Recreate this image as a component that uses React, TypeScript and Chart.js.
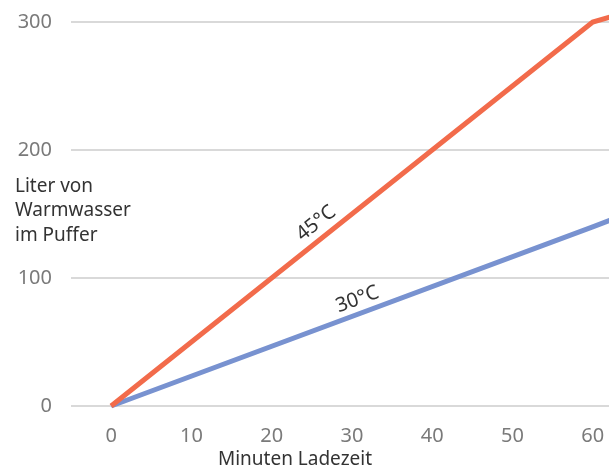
import React, { useEffect, useRef } from "react";
import { Chart, registerables } from "chart.js";

Chart.register(...registerables);

// ---- data ----
const xTickValues = [0, 10, 20, 30, 40, 50, 60];
const yTickValues = [0, 100, 200, 300];
const minutes45 = [0, 60, 70];
const liters45 = [0, 300, 318];
const minutes30 = [0, 60, 70];
const liters30 = [0, 140, 164];
const seriesNames = ["45°C", "30°C"];
const xAxisTitle = "Minuten Ladezeit";
const yAxisTitleLines = ["Liter von", "Warmwasser", "im Puffer"];

const FONT = '"Noto Sans", "DejaVu Sans", sans-serif';

const labelPlacement = [
  { at: 26.7, offset: 15 },
  { at: 31.3, offset: 14 },
];

const textPlugin = {
  id: "customTexts",
  afterDraw(chart: any) {
    const ctx = chart.ctx as CanvasRenderingContext2D;
    const xs = chart.scales.x;
    const ys = chart.scales.y;
    ctx.save();
    ctx.fillStyle = "#333333";
    ctx.font = `19px ${FONT}`;
    ctx.textAlign = "left";
    ctx.textBaseline = "alphabetic";
    yAxisTitleLines.forEach((t, i) => ctx.fillText(t, 15, 192 + i * 24.3));
    ctx.textAlign = "center";
    ctx.fillText(xAxisTitle, 295, 465);

    ctx.font = `20px ${FONT}`;
    chart.data.datasets.forEach((ds: any, i: number) => {
      const cfg = labelPlacement[i];
      const p0 = ds.data[0];
      const p1 = ds.data[1];
      const x0 = xs.getPixelForValue(p0.x);
      const y0 = ys.getPixelForValue(p0.y);
      const x1 = xs.getPixelForValue(p1.x);
      const y1 = ys.getPixelForValue(p1.y);
      const ang = Math.atan2(y1 - y0, x1 - x0);
      const t = (cfg.at - p0.x) / (p1.x - p0.x);
      const ax = x0 + t * (x1 - x0);
      const ay = y0 + t * (y1 - y0);
      const nx = Math.sin(ang);
      const ny = -Math.cos(ang);
      ctx.save();
      ctx.translate(ax + nx * cfg.offset, ay + ny * cfg.offset);
      ctx.rotate(ang);
      ctx.textAlign = "center";
      ctx.textBaseline = "middle";
      ctx.fillText(seriesNames[i], 0, 0);
      ctx.restore();
    });
    ctx.restore();
  },
};

export default function App() {
  const ref = useRef<HTMLCanvasElement | null>(null);

  useEffect(() => {
    if (!ref.current) return;
    const chart = new Chart(ref.current, {
      type: "line",
      data: {
        datasets: [
          {
            label: seriesNames[0],
            data: minutes45.map((m, i) => ({ x: m, y: liters45[i] })),
            borderColor: "#F26B4B",
            borderWidth: 5,
            pointRadius: 0,
            tension: 0,
            clip: false as any,
          },
          {
            label: seriesNames[1],
            data: minutes30.map((m, i) => ({ x: m, y: liters30[i] })),
            borderColor: "#7892D0",
            borderWidth: 5,
            pointRadius: 0,
            tension: 0,
            clip: false as any,
          },
        ],
      },
      options: {
        animation: false,
        responsive: false,
        events: [],
        layout: { padding: { top: 22, right: 7, left: 0, bottom: 0 } },
        plugins: { legend: { display: false }, tooltip: { enabled: false } },
        scales: {
          x: {
            type: "linear",
            min: -5,
            max: 70,
            afterBuildTicks: (s: any) => {
              s.ticks = xTickValues.map((v) => ({ value: v }));
            },
            afterFit: (s: any) => {
              s.height = 62;
              s.paddingLeft = 0;
              s.paddingRight = 0;
            },
            grid: { display: false, drawTicks: false },
            border: { display: false },
            ticks: {
              padding: 18,
              color: "#7a7a7a",
              font: { family: FONT, size: 20 },
              maxRotation: 0,
            },
          },
          y: {
            type: "linear",
            min: 0,
            max: 300,
            afterBuildTicks: (s: any) => {
              s.ticks = yTickValues.map((v) => ({ value: v }));
            },
            afterFit: (s: any) => {
              s.width = 71;
              s.paddingTop = 0;
              s.paddingBottom = 0;
            },
            grid: { color: "#d9d9d9", lineWidth: 2, drawTicks: false },
            border: { display: false },
            ticks: {
              padding: 19,
              color: "#7a7a7a",
              font: { family: FONT, size: 20 },
            },
          },
        },
      },
      plugins: [textPlugin],
    });
    return () => chart.destroy();
  }, []);

  return (
    <div
      style={{
        position: "fixed",
        left: 0,
        top: 0,
        width: 609,
        height: 468,
        overflow: "hidden",
        background: "#ffffff",
      }}
    >
      <canvas ref={ref} width={680} height={468} style={{ display: "block" }} />
    </div>
  );
}
